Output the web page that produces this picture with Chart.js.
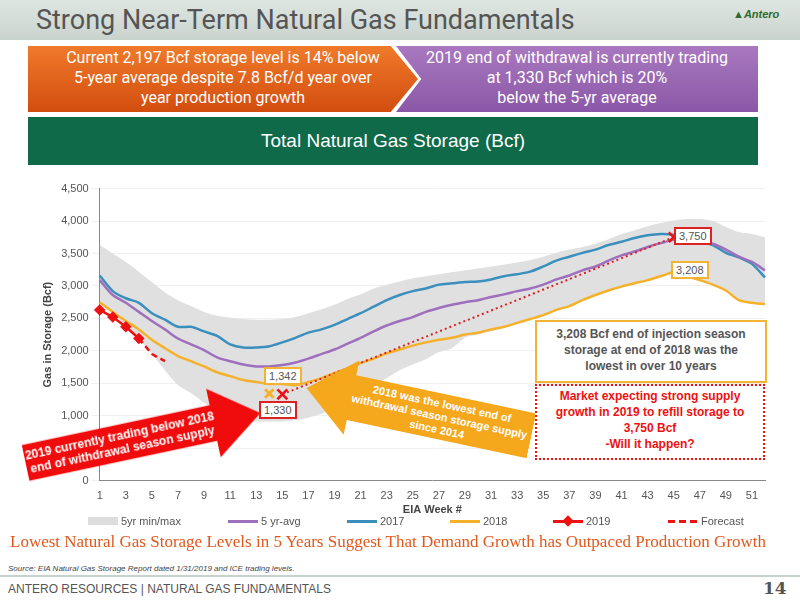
<!DOCTYPE html>
<html><head><meta charset="utf-8">
<script src="https://cdn.jsdelivr.net/npm/chart.js@4"></script>
<style>
body{margin:0;width:800px;height:600px;position:relative;font-family:"Liberation Sans",Arial,sans-serif;background:#fff;overflow:hidden}
.abs{position:absolute}
#hdr{left:0;top:0;width:800px;height:40px;background:linear-gradient(#dfe6e2,#c9d3ce)}
#title{left:36px;top:4px;font-size:27px;color:#555;font-family:Roboto,"Liberation Sans",sans-serif}
.ban{color:#fff;font-size:16px;text-align:center;line-height:20px;font-family:Roboto,"Liberation Sans",sans-serif}
#b1{left:28px;top:46px;width:390px;height:64px;background:linear-gradient(#f07a2a,#d24d0f);clip-path:polygon(0 0,93% 0,100% 50%,93% 100%,0 100%);padding-top:2px}
#b2{left:396px;top:46px;width:362px;height:64px;background:linear-gradient(#a978c0,#8a58a6);clip-path:polygon(0 0,100% 0,100% 100%,0 100%,7% 50%);padding-top:2px}
#g{left:28px;top:117px;width:730px;height:48px;background:#0e6a49;color:#fff;font-size:19px;text-align:center;line-height:48px}
#c{left:0;top:179px}
.lbl{font-size:11px;color:#555;background:#fff;padding:1px 3px;border:2px solid}
#leg{left:0;top:515px;width:800px;font-size:11px;color:#555}
.li{position:absolute;top:0;display:flex;align-items:center;gap:3px}
.sw{display:inline-block;width:30px;height:3px}
#bot{left:10px;top:532px;font-size:17px;color:#e2581c;font-family:"Liberation Serif",serif;white-space:nowrap}
#src{left:8px;top:564px;font-size:8px;font-style:italic;color:#444}
#ftr{left:0;top:575px;width:800px;height:25px;border-top:2px solid #c8d2cd}
#ftt{left:8px;top:582px;font-size:12px;color:#555}
#pg{left:763px;top:578px;font-size:17px;color:#555;font-weight:bold;font-family:"DejaVu Serif",serif}
.arr{display:flex;align-items:center;justify-content:center;text-align:center;font-weight:bold;color:#fff;font-size:12px;line-height:14px}
</style></head><body>
<div id="hdr" class="abs"></div>
<div id="title" class="abs">Strong Near-Term Natural Gas Fundamentals</div>
<div class="abs" style="left:733px;top:8px;font-size:11px;color:#2d6a2d;font-style:italic;font-weight:bold">▲Antero</div>
<div id="b1" class="abs ban">Current 2,197 Bcf storage level is 14% below<br>5-year average despite 7.8 Bcf/d year over<br>year production growth</div>
<div id="b2" class="abs ban">2019 end of withdrawal is currently trading<br>at 1,330 Bcf which is 20%<br>below the 5-yr average</div>
<div id="g" class="abs">Total Natural Gas Storage (Bcf)</div>
<canvas id="c" class="abs" width="800" height="338"></canvas>

<div class="abs arr" style="left:23px;top:403px;width:240px;height:70px;background:#f00c0c;clip-path:polygon(0 24%,80% 24%,80% 0,100% 50%,80% 100%,80% 76%,0 76%);transform:rotate(-12deg)"><span style="margin-right:45px">2019 currently trading below 2018<br>end of withdrawal season supply</span></div>
<div class="abs arr" style="left:304px;top:374px;width:230px;height:76px;background:#f5a81c;clip-path:polygon(0 50%,20% 0,20% 20%,100% 20%,100% 80%,20% 80%,20% 100%);transform:rotate(12deg)"><span style="margin-left:42px;font-size:11px;line-height:13px;white-space:nowrap">2018 was the lowest end of<br>withdrawal season storage supply<br>since 2014</span></div>

<div class="abs lbl" style="left:264px;top:367px;border-color:#f5b333">1,342</div>
<div class="abs lbl" style="left:259px;top:401px;border-color:#d22">1,330</div>
<div class="abs lbl" style="left:674px;top:227px;border-color:#d22">3,750</div>
<div class="abs lbl" style="left:671px;top:261px;border-color:#f5b333">3,208</div>
<div class="abs" style="left:535px;top:320px;width:228px;height:55px;border:2px solid #f5b333;background:#fff;font-size:12px;font-weight:bold;color:#555;text-align:center;line-height:16px;padding-top:4px">3,208 Bcf end of injection season<br>storage at end of 2018 was the<br>lowest in over 10 years</div>
<div class="abs" style="left:535px;top:384px;width:226px;height:70px;border:2px dotted #e11;background:#fff;font-size:12px;font-weight:bold;color:#e11;text-align:center;line-height:16px;padding-top:2px">Market expecting strong supply<br>growth in 2019 to refill storage to<br>3,750 Bcf<br>-Will it happen?</div>

<div id="leg" class="abs">
<div class="li" style="left:88px"><span class="sw" style="background:#ddd;height:8px"></span>5yr min/max</div>
<div class="li" style="left:228px"><span class="sw" style="background:#9e6fbd"></span>5 yr-avg</div>
<div class="li" style="left:347px"><span class="sw" style="background:#3a8fbd"></span>2017</div>
<div class="li" style="left:450px"><span class="sw" style="background:#f5b12a"></span>2018</div>
<div class="li" style="left:553px"><span class="sw" style="background:#e11;position:relative"><span style="position:absolute;left:11px;top:-3px;width:8px;height:8px;background:#e11;transform:rotate(45deg)"></span></span>2019</div>
<div class="li" style="left:668px"><span class="sw" style="background:repeating-linear-gradient(90deg,#e11 0 7px,transparent 7px 11px)"></span>Forecast</div>
</div>
<div id="bot" class="abs">Lowest Natural Gas Storage Levels in 5 Years Suggest That Demand Growth has Outpaced Production Growth</div>
<div id="src" class="abs">Source:  EIA Natural Gas Storage Report dated 1/31/2019 and ICE trading levels.</div>
<div id="ftr" class="abs"></div>
<div id="ftt" class="abs">ANTERO RESOURCES | NATURAL GAS FUNDAMENTALS</div>
<div id="pg" class="abs">14</div>
<script>
const weeks = Array.from({length:52},(_,i)=>String(i+1));
const yTicks = [0,500,1000,1500,2000,2500,3000,3500,4000,4500];
const bandMax = [3630,3500,3370,3220,3060,2900,2780,2690,2600,2540,2510,2490,2480,2480,2490,2520,2580,2640,2710,2800,2870,2960,3020,3070,3120,3150,3180,3210,3240,3270,3300,3330,3360,3400,3450,3510,3560,3600,3650,3720,3800,3860,3920,3970,4010,4030,4030,4000,3910,3830,3800,3750];
const bandMin = [2750,2570,2390,2190,1950,1700,1470,1350,1200,1080,1000,940,910,910,910,930,970,1030,1110,1220,1340,1460,1580,1700,1790,1870,1980,2040,2200,2250,2300,2350,2420,2480,2540,2620,2680,2770,2850,2920,2980,3030,3080,3140,3190,3140,3080,3010,2920,2770,2730,2710];
const avg5 = [3090,2860,2740,2600,2460,2330,2190,2100,2010,1900,1840,1790,1760,1760,1780,1820,1880,1950,2020,2110,2200,2300,2390,2460,2520,2600,2660,2710,2750,2780,2830,2870,2920,2960,3020,3100,3160,3240,3300,3390,3470,3530,3600,3660,3710,3720,3690,3650,3560,3450,3370,3240];
const y2017 = [3160,2920,2810,2740,2580,2480,2370,2370,2300,2230,2100,2050,2050,2070,2130,2200,2280,2330,2400,2490,2580,2680,2780,2860,2920,2960,3020,3040,3060,3070,3100,3150,3180,3220,3300,3390,3450,3510,3560,3630,3680,3740,3780,3800,3790,3740,3690,3630,3510,3440,3340,3130];
const y2018 = [2750,2600,2460,2330,2170,2040,1920,1840,1760,1670,1610,1550,1520,1490,1490,1470,1520,1580,1660,1730,1810,1880,1960,2020,2080,2130,2170,2200,2250,2280,2330,2370,2430,2490,2550,2630,2690,2780,2860,2930,2990,3040,3090,3150,3208,3150,3090,3020,2930,2780,2740,2720];
const y2019 = [2630,2520,2370,2190];
const forecast = [null,null,null,2190,1950,1840];
const targetWeeks = [15,45];
const targetVals = [1330,3750];
const low2018Week = 14, low2018Val = 1342;

const pad = a => weeks.map((_,i)=> a[i]===undefined?null:a[i]);
const tgt = weeks.map((w,i)=>{const k=targetWeeks.indexOf(i+1);return k>=0?targetVals[k]:null;});
const low = weeks.map((w,i)=> i+1===low2018Week?low2018Val:null);

new Chart(document.getElementById('c'),{
 type:'line',
 data:{labels:weeks,datasets:[
  {data:bandMax,borderWidth:0,pointRadius:0,fill:'+1',backgroundColor:'#e0e0e0',tension:0.3,order:10},
  {data:bandMin,borderWidth:0,pointRadius:0,fill:false,tension:0.3,order:10},
  {data:avg5,borderColor:'#9e6fbd',borderWidth:2.5,pointRadius:0,tension:0.3,order:5},
  {data:y2017,borderColor:'#3a8fbd',borderWidth:2.5,pointRadius:0,tension:0.3,order:5},
  {data:y2018,borderColor:'#f5b12a',borderWidth:2.5,pointRadius:0,tension:0.3,order:5},
  {data:pad(forecast),borderColor:'#e11',borderWidth:2.5,borderDash:[6,4],pointRadius:0,order:2},
  {data:pad(y2019),borderColor:'#e11',borderWidth:2.5,pointStyle:'rectRot',pointRadius:4,backgroundColor:'#e11',order:1},
  {data:tgt,spanGaps:true,borderColor:'#d22',borderWidth:2,borderDash:[2,3],pointStyle:'crossRot',pointRadius:7,pointBorderWidth:2.5,pointBorderColor:'#e11',order:1},
  {data:low,showLine:false,pointStyle:'crossRot',pointRadius:6,pointBorderWidth:3,pointBorderColor:'#f5b12a',order:1}
 ]},
 options:{responsive:false,animation:false,
  layout:{padding:{top:1,right:35,left:37,bottom:0}},
  plugins:{legend:{display:false},tooltip:{enabled:false},filler:{drawTime:'beforeDatasetsDraw'}},
  scales:{
   x:{grid:{display:false},border:{color:'#888'},ticks:{autoSkip:false,maxRotation:0,minRotation:0,padding:1,color:'#555',font:{size:11},
        callback:function(v){const n=Number(this.getLabelForValue(v));return n%2===1?String(n):'';}},
      title:{display:true,text:'EIA Week #',color:'#444',font:{size:11,weight:'bold'},padding:{top:0,bottom:0}}},
   y:{min:0,max:4500,afterBuildTicks:a=>{a.ticks=yTicks.map(v=>({value:v}));},
      grid:{color:'#f0f0f0'},border:{color:'#888'},
      ticks:{color:'#555',font:{size:11},callback:v=>v.toLocaleString('en-US')},
      title:{display:true,text:'Gas in Storage (Bcf)',color:'#444',font:{size:11,weight:'bold'}}}
  }}
});
</script>
</body></html>
